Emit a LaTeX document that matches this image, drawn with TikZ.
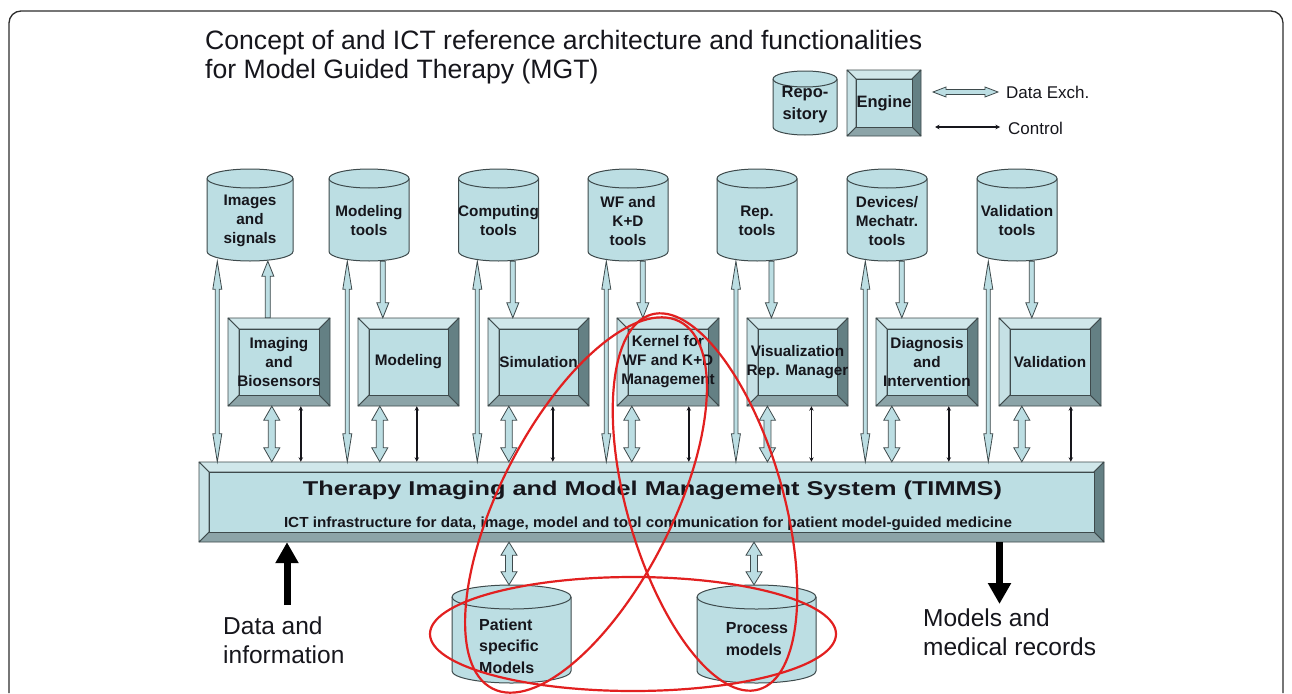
\documentclass[tikz,border=0pt]{standalone}
\usepackage{fontspec}
\setmainfont{Liberation Sans}
\usepackage{graphicx}
\usetikzlibrary{calc,arrows.meta}

\definecolor{face}{RGB}{188,222,227}
\definecolor{bevtop}{RGB}{208,231,234}
\definecolor{bevleft}{RGB}{198,225,229}
\definecolor{bevright}{RGB}{100,128,132}
\definecolor{bevbot}{RGB}{140,164,168}
\definecolor{edge}{RGB}{62,74,76}
\definecolor{ink}{RGB}{22,22,28}
\definecolor{ring}{RGB}{226,32,32}
\definecolor{framec}{RGB}{45,45,45}

\tikzset{
  bevline/.style={draw=edge, line width=0.8pt, line join=round},
  cylline/.style={draw=edge, line width=1pt, fill=face},
  hollow/.style={draw=edge, line width=0.8pt, fill=face, line join=miter},
  ctrl/.style={draw=ink, line width=1.6pt, arrows={Stealth[length=4.5pt,width=4.5pt]-Stealth[length=4.5pt,width=4.5pt]}},
  bigarrow/.style={draw=black, line width=7pt, arrows={-Triangle[width=22pt,length=21pt]}},
  redring/.style={draw=ring, line width=2.2pt},
  lbl/.style={inner sep=0pt, text=ink, align=center},
  boxfont/.style={font=\bfseries\fontsize{15.3}{19}\selectfont},
  bigtext/.style={inner sep=0pt, text=ink, anchor=base west, font=\fontsize{24.5}{29}\selectfont},
}

% bevelled box: name, x1, y1, x2, y2, bevel, font, text
\newcommand\bevbox[8]{%
  \pgfmathsetmacro\bxXa{#2}\pgfmathsetmacro\bxXb{#4}%
  \pgfmathsetmacro\bxYa{-#3}\pgfmathsetmacro\bxYb{-#5}%
  \pgfmathsetmacro\bxxa{#2+#6}\pgfmathsetmacro\bxxb{#4-#6}%
  \pgfmathsetmacro\bxya{-#3-#6}\pgfmathsetmacro\bxyb{-#5+#6}%
  \filldraw[bevline,fill=bevtop] (\bxXa,\bxYa) -- (\bxXb,\bxYa) -- (\bxxb,\bxya) -- (\bxxa,\bxya) -- cycle;
  \filldraw[bevline,fill=bevright] (\bxXb,\bxYa) -- (\bxXb,\bxYb) -- (\bxxb,\bxyb) -- (\bxxb,\bxya) -- cycle;
  \filldraw[bevline,fill=bevbot] (\bxXb,\bxYb) -- (\bxXa,\bxYb) -- (\bxxa,\bxyb) -- (\bxxb,\bxyb) -- cycle;
  \filldraw[bevline,fill=bevleft] (\bxXa,\bxYb) -- (\bxXa,\bxYa) -- (\bxxa,\bxya) -- (\bxxa,\bxyb) -- cycle;
  \filldraw[bevline,fill=face] (\bxxa,\bxya) rectangle (\bxxb,\bxyb);
  \pgfmathsetmacro\bxW{#4-#2}\pgfmathsetmacro\bxH{#5-#3}%
  \pgfmathsetmacro\bxCx{(#2+#4)/2}\pgfmathsetmacro\bxCy{-(#3+#5)/2}%
  \node[inner sep=0pt, minimum width=\bxW pt, minimum height=\bxH pt, align=center, text=ink, font=#7] (#1) at (\bxCx,\bxCy) {#8};
}

% cylinder: name, cx, top, bottom, width, ellipse half-height
\newcommand\dbcyl[6]{%
  \pgfmathsetmacro\cyL{#2-#5/2}\pgfmathsetmacro\cyR{#2+#5/2}%
  \pgfmathsetmacro\cyT{-#3-#6}\pgfmathsetmacro\cyB{-#4+#6}%
  \pgfmathsetmacro\cyRX{#5/2}\pgfmathsetmacro\cyH{#4-#3}\pgfmathsetmacro\cyY{-(#3+#4)/2}%
  \filldraw[cylline] (\cyL,\cyB) arc[start angle=180,end angle=360,x radius=\cyRX,y radius=#6] -- (\cyR,\cyT) arc[start angle=0,end angle=180,x radius=\cyRX,y radius=#6] -- cycle;
  \draw[cylline,fill=none] (\cyL,\cyT) arc[start angle=180,end angle=360,x radius=\cyRX,y radius=#6];
  \node[inner sep=0pt, minimum width=#5pt, minimum height=\cyH pt] (#1) at (#2,\cyY) {};
}

% vertical hollow arrows: from, to, shaft half width, head half width, head length
\newcommand\vdbl[5]{%
  \filldraw[hollow] let \p1=#1, \p2=#2 in
   (\x1,\y1) -- (\x1+#4pt,\y1-#5pt) -- (\x1+#3pt,\y1-#5pt) -- (\x1+#3pt,\y2+#5pt) -- (\x1+#4pt,\y2+#5pt)
   -- (\x1,\y2) -- (\x1-#4pt,\y2+#5pt) -- (\x1-#3pt,\y2+#5pt) -- (\x1-#3pt,\y1-#5pt) -- (\x1-#4pt,\y1-#5pt) -- cycle;}
\newcommand\vdown[5]{%
  \filldraw[hollow] let \p1=#1, \p2=#2 in
   (\x1+#3pt,\y1) -- (\x1+#3pt,\y2+#5pt) -- (\x1+#4pt,\y2+#5pt) -- (\x1,\y2) -- (\x1-#4pt,\y2+#5pt) -- (\x1-#3pt,\y2+#5pt) -- (\x1-#3pt,\y1) -- cycle;}
\newcommand\vup[5]{%
  \filldraw[hollow] let \p1=#1, \p2=#2 in
   (\x1+#3pt,\y1) -- (\x1+#3pt,\y2-#5pt) -- (\x1+#4pt,\y2-#5pt) -- (\x1,\y2) -- (\x1-#4pt,\y2-#5pt) -- (\x1-#3pt,\y2-#5pt) -- (\x1-#3pt,\y1) -- cycle;}

\begin{document}
\begin{tikzpicture}[x=1pt,y=1pt]
\fill[white] (0,0) rectangle (1292,-693);
\useasboundingbox (0,0) rectangle (1292,-693);

% frame
\draw[framec, line width=1.3pt, rounded corners=12pt] (9,-693) -- (9,-11) -- (1283,-11) -- (1283,-693);

% title
\node[inner sep=0pt, anchor=base west, text=ink, font=\fontsize{26.6}{28}\selectfont] (title1) at (205,-50) {Concept of and ICT reference architecture and functionalities};
\node[inner sep=0pt, anchor=base west, text=ink, font=\fontsize{26.6}{28}\selectfont] (title2) at (205,-78) {for Model Guided Therapy (MGT)};

% legend
\dbcyl{lrep}{805}{71}{135}{64}{8}
\node[lbl, font=\bfseries\fontsize{16.5}{22}\selectfont] (lrept) at (805,-105) {Repo-\\sitory};
\bevbox{leng}{847}{70}{921}{136}{9}{\bfseries\fontsize{16.5}{18}\selectfont}{Engine}
\node[inner sep=0pt, anchor=west, text=ink, font=\fontsize{17}{17}\selectfont] (lgD) at (1006,-92) {Data Exch.};
\node[inner sep=0pt, anchor=west, text=ink, font=\fontsize{17}{17}\selectfont] (lgC) at (1008,-128) {Control};
\coordinate (ld1) at (933,-92);
\coordinate (lc1) at (935,-127);
\filldraw[hollow] let \p1=(ld1), \p2=($(lgD.west)+(-8,0)$) in
  (\x1,\y1) -- (\x1+13pt,\y1+5pt) -- (\x1+13pt,\y1+2.5pt) -- (\x2-13pt,\y1+2.5pt) -- (\x2-13pt,\y1+5pt)
  -- (\x2,\y1) -- (\x2-13pt,\y1-5pt) -- (\x2-13pt,\y1-2.5pt) -- (\x1+13pt,\y1-2.5pt) -- (\x1+13pt,\y1-5pt) -- cycle;
\draw[ctrl, line width=1.3pt] (lc1) -- ($(lgC.west |- lc1)+(-8,0)$);

% top repositories
\dbcyl{c1}{250}{169}{261}{86}{9.5}
\dbcyl{c2}{369}{169}{261}{80}{9.5}
\dbcyl{c3}{498.5}{169}{261}{80}{9.5}
\dbcyl{c4}{628}{169}{261}{80}{9.5}
\dbcyl{c5}{757}{169}{261}{80}{9.5}
\dbcyl{c6}{887}{169}{261}{80}{9.5}
\dbcyl{c7}{1017}{169}{261}{80}{9.5}
\node[lbl, boxfont] (c1t) at (250,-221) {Images\\and\\signals};
\node[lbl, boxfont] (c2t) at (369,-221) {Modeling\\tools};
\node[lbl, boxfont] (c3t) at (498.5,-221) {Computing\\tools};
\node[lbl, boxfont] (c4t) at (628,-221) {WF and\\K+D\\tools};
\node[lbl, boxfont] (c5t) at (757,-221) {Rep.\\tools};
\node[lbl, boxfont] (c6t) at (887,-221) {Devices/\\Mechatr.\\tools};
\node[lbl, boxfont] (c7t) at (1017,-221) {Validation\\tools};

% engines
\bevbox{b1}{228}{318}{330}{406}{11}{\bfseries\fontsize{15.3}{19}\selectfont}{Imaging\\and\\Biosensors}
\bevbox{b2}{358}{318}{459}{406}{11}{\bfseries\fontsize{15.3}{19}\selectfont}{Modeling}
\bevbox{b3}{488}{318}{589}{406}{11}{\bfseries\fontsize{15.3}{19}\selectfont}{Simulation}
\bevbox{b4}{617}{318}{719}{406}{11}{\bfseries\fontsize{15.3}{19}\selectfont}{Kernel for\\WF and K+D\\Management}
\bevbox{b5}{747}{318}{848}{406}{11}{\bfseries\fontsize{15.3}{19}\selectfont}{Visualization\\Rep. Manager}
\bevbox{b6}{876}{318}{978}{406}{11}{\bfseries\fontsize{15.3}{19}\selectfont}{Diagnosis\\and\\Intervention}
\bevbox{b7}{999}{318}{1101}{406}{11}{\bfseries\fontsize{15.3}{19}\selectfont}{Validation}

% TIMMS
\bevbox{timms}{199}{462}{1104}{542}{10}{}{}
\node[inner sep=0pt, anchor=base, text=ink] (timmsT) at (652.5,-495) {\resizebox{699pt}{\height}{\bfseries\fontsize{20}{20}\selectfont Therapy Imaging and Model Management System (TIMMS)}};
\node[inner sep=0pt, anchor=base, text=ink] (timmsS) at (648,-527) {\resizebox{728pt}{\height}{\bfseries\fontsize{14.6}{14.6}\selectfont ICT infrastructure for data, image, model and tool communication for patient model-guided medicine}};

% long data exchange arrows (repository <-> TIMMS)
\vdbl{($(b1.west |- c1.south)+(-10.5,0)$)}{(timms.north)}{2}{4.5}{28}
\vdbl{($(b2.west |- c2.south)+(-10.5,0)$)}{(timms.north)}{2}{4.5}{28}
\vdbl{($(b3.west |- c3.south)+(-10.5,0)$)}{(timms.north)}{2}{4.5}{28}
\vdbl{($(b4.west |- c4.south)+(-10.5,0)$)}{(timms.north)}{2}{4.5}{28}
\vdbl{($(b5.west |- c5.south)+(-10.5,0)$)}{(timms.north)}{2}{4.5}{28}
\vdbl{($(b6.west |- c6.south)+(-10.5,0)$)}{(timms.north)}{2}{4.5}{28}
\vdbl{($(b7.west |- c7.south)+(-10.5,0)$)}{(timms.north)}{2}{4.5}{28}

% repository -> engine
\vup{($(b1.north west)+(40,0)$)}{(c1.south)}{2.5}{6}{15}
\vdown{($(b2.west |- c2.south)+(25,0)$)}{(b2.north)}{2.5}{6}{15}
\vdown{($(b3.west |- c3.south)+(25,0)$)}{(b3.north)}{2.5}{6}{15}
\vdown{($(b4.west |- c4.south)+(26,0)$)}{(b4.north)}{2.5}{6}{15}
\vdown{($(b5.west |- c5.south)+(25,0)$)}{(b5.north)}{2.5}{6}{15}
\vdown{($(b6.west |- c6.south)+(26,0)$)}{(b6.north)}{2.5}{6}{15}
\vdown{($(b7.west |- c7.south)+(33,0)$)}{(b7.north)}{2.5}{6}{15}

% engine <-> TIMMS data
\vdbl{($(b1.south west)+(44,0)$)}{(timms.north)}{3.5}{8}{14}
\vdbl{($(b2.south west)+(22,0)$)}{(timms.north)}{3.5}{8}{14}
\vdbl{($(b3.south west)+(21,0)$)}{(timms.north)}{3.5}{8}{14}
\vdbl{($(b4.south west)+(15,0)$)}{(timms.north)}{3.5}{8}{14}
\vdbl{($(b5.south west)+(21,0)$)}{(timms.north)}{3.5}{8}{14}
\vdbl{($(b6.south west)+(16,0)$)}{(timms.north)}{3.5}{8}{14}
\vdbl{($(b7.south west)+(23,0)$)}{(timms.north)}{3.5}{8}{14}

% engine <-> TIMMS control
\draw[ctrl] let \p1=($(b1.south west)+(73,0)$), \p2=(timms.north) in (\x1,\y1) -- (\x1,\y2);
\draw[ctrl] let \p1=($(b2.south west)+(59,0)$), \p2=(timms.north) in (\x1,\y1) -- (\x1,\y2);
\draw[ctrl] let \p1=($(b3.south west)+(65,0)$), \p2=(timms.north) in (\x1,\y1) -- (\x1,\y2);
\draw[ctrl] let \p1=($(b4.south west)+(72,0)$), \p2=(timms.north) in (\x1,\y1) -- (\x1,\y2);
\draw[ctrl] let \p1=($(b5.south west)+(65,0)$), \p2=(timms.north) in (\x1,\y1) -- (\x1,\y2);
\draw[ctrl] let \p1=($(b6.south west)+(73,0)$), \p2=(timms.north) in (\x1,\y1) -- (\x1,\y2);
\draw[ctrl] let \p1=($(b7.south west)+(72,0)$), \p2=(timms.north) in (\x1,\y1) -- (\x1,\y2);

% bottom model repositories
\dbcyl{pc}{511.5}{585}{683}{119}{12}
\dbcyl{prc}{756.5}{585}{683}{119}{12}
\node[lbl, align=left, font=\bfseries\fontsize{16}{21.5}\selectfont] (pct) at (509,-646) {Patient\\specific\\Models};
\node[lbl, align=left, font=\bfseries\fontsize{16}{21.5}\selectfont] (prct) at (757,-639) {Process\\models};
\vdbl{($(pc.north |- timms.south)+(-2.5,0)$)}{(pc.north)}{3.5}{8}{13}
\vdbl{($(prc.north |- timms.south)+(-2.5,0)$)}{(prc.north)}{3.5}{8}{13}

% input / output
\coordinate (din) at (287,-605);
\draw[bigarrow] (din) -- (din |- timms.south);
\coordinate (mout) at (999.5,-604);
\draw[bigarrow] (mout |- timms.south) -- (mout);
\node[bigtext] (dt1) at (223,-634) {Data and};
\node[bigtext] (dt2) at (223,-663) {information};
\node[bigtext] (mt1) at (923,-626) {Models and};
\node[bigtext] (mt2) at (923,-655) {medical records};

% red rings
\draw[redring] (633,-634) ellipse [x radius=203, y radius=57];
\draw[redring, rotate around={63:(586,-505)}] (586,-505) ellipse [x radius=206, y radius=86];
\draw[redring, rotate around={106:(705,-502)}] (705,-502) ellipse [x radius=195, y radius=78];
\end{tikzpicture}
\end{document}
